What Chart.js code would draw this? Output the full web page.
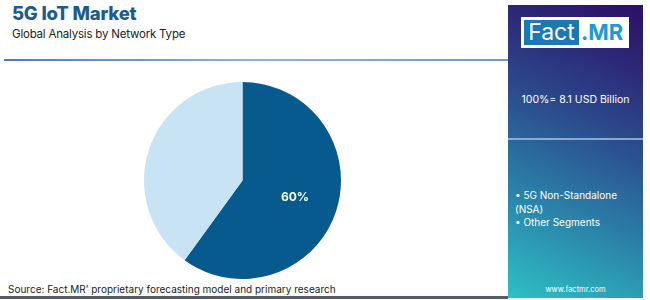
<!DOCTYPE html>
<html>
<head>
<meta charset="utf-8">
<script src="https://cdn.jsdelivr.net/npm/chart.js@4.4.1/dist/chart.umd.min.js"></script>
<style>
  body { margin: 0; width: 650px; height: 300px; background: #fff; font-family: Inter, "Noto Sans", sans-serif; overflow: hidden; position: relative; }
  .title { position: absolute; left: 12px; top: 2px; font-size: 18.5px; font-weight: 800; color: #1d5b8c; letter-spacing: -0.2px; }
  .subtitle { position: absolute; left: 12px; top: 27px; font-size: 11.5px; color: #222; letter-spacing: -0.2px; }
  .topline { position: absolute; left: 4px; top: 59px; width: 504px; height: 2px; background: linear-gradient(to right, #4a7fab, #8fb5d2 50%, #6d9cc2); }
  .bottomline { position: absolute; left: 0; top: 296px; width: 508px; height: 3px; background: #555c66; }
  .source { position: absolute; left: 8px; top: 283px; font-size: 10px; color: #222; }
  #chartBox { position: absolute; left: 144px; top: 82px; width: 197px; height: 197px; }
  .panel { position: absolute; left: 508px; top: 5px; width: 135px; height: 293px;
    background: linear-gradient(25deg, #2ec0c4 0%, #2a7aa5 35%, #2b4a8c 60%, #2c2a78 80%, #2d0e66 100%); }
  .divider { position: absolute; left: 0; top: 133px; width: 135px; height: 2px; background: rgba(160,190,230,0.8); }
  .logo { position: absolute; left: 13px; top: 12px; width: 108px; height: 31px; background: #fff; }
  .logo .fact { position: absolute; left: 3px; top: 3px; width: 55px; height: 25px; background: #1a78b4; color: #fff; font-size: 23px; line-height: 25px; text-align: center; }
  .logo .mr { position: absolute; left: 60px; top: 3px; font-size: 22px; line-height: 25px; font-weight: 700; color: #1b9ad6; }
  .total { position: absolute; left: 0; width: 135px; top: 88px; text-align: center; color: #fff; font-size: 10.5px; }
  .legend { position: absolute; left: 7px; top: 184px; color: #fff; font-size: 10px; line-height: 13.5px; }
  .web { position: absolute; left: 0; width: 135px; top: 280px; text-align: center; color: #fff; font-size: 7.5px; }
</style>
</head>
<body>
<div class="title">5G IoT Market</div>
<div class="subtitle">Global Analysis by Network Type</div>
<div class="topline"></div>
<div id="chartBox"><canvas id="pieChart"></canvas></div>
<div class="source">Source: Fact.MR’ proprietary forecasting model and primary research</div>
<div class="bottomline"></div>
<div class="panel">
  <div class="logo"><div class="fact">Fact</div><div class="mr">.MR</div></div>
  <div class="total">100%= 8.1 USD Billion</div>
  <div class="divider"></div>
  <div class="legend">• 5G Non-Standalone<br>(NSA)<br>• Other Segments</div>
  <div class="web">www.factmr.com</div>
</div>
<script>
const segments = ['5G Non-Standalone (NSA)', 'Other Segments'];
const shares = [60, 40];
const shownLabels = ['60%', ''];
const sliceColors = ['#075a8e', '#c8e3f3'];

// 在扇区中写百分比（稍偏外）
const sliceLabelPlugin = {
    id: 'sliceLabel',
    afterDatasetsDraw(chart) {
        const ctx = chart.ctx;
        const meta = chart.getDatasetMeta(0);
        meta.data.forEach((arc, i) => {
            if (!shownLabels[i]) return;
            const p = arc.getProps(['x', 'y', 'startAngle', 'endAngle', 'outerRadius'], true);
            const mid = (p.startAngle + p.endAngle) / 2;
            const r = p.outerRadius * 0.56;
            ctx.save();
            ctx.fillStyle = '#fff';
            ctx.font = 'bold 12px Inter, "Noto Sans", sans-serif';
            ctx.textAlign = 'center';
            ctx.textBaseline = 'middle';
            ctx.fillText(shownLabels[i], p.x + Math.cos(mid) * r, p.y + Math.sin(mid) * r);
            ctx.restore();
        });
    }
};

new Chart(document.getElementById('pieChart').getContext('2d'), {
    type: 'pie',
    data: {
        labels: segments,
        datasets: [{
            data: shares,
            backgroundColor: sliceColors,
            borderWidth: 0
        }]
    },
    options: {
        responsive: true,
        maintainAspectRatio: false,
        animation: false,
        layout: { padding: 0 },
        plugins: {
            legend: { display: false },
            tooltip: { enabled: false }
        }
    },
    plugins: [sliceLabelPlugin]
});
</script>
</body>
</html>
